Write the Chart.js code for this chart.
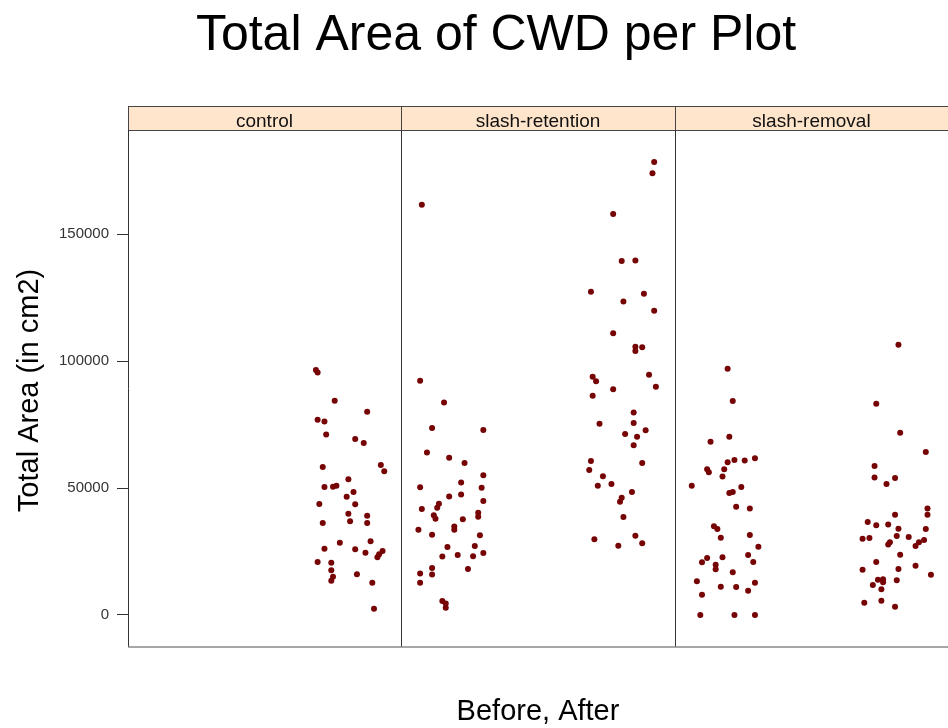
<!DOCTYPE html>
<html>
<head>
<meta charset="utf-8">
<title>Total Area of CWD per Plot</title>
<script src="https://cdn.jsdelivr.net/npm/chart.js@4/dist/chart.umd.min.js"></script>
<style>
  html, body { margin: 0; padding: 0; background: #fff; overflow: hidden; }
  canvas { display: block; }
</style>
</head>
<body>
<canvas id="cwdChart" width="952" height="728"></canvas>
<script>
const panels = ['control', 'slash-retention', 'slash-removal'];
const yTickValues = [0, 50000, 100000, 150000];

// x = jittered position inside a panel (1 = Before, 2 = After), y = total area in cm2
const controlAfterX = [1.80, 1.81, 1.91, 2.10, 1.81, 1.85, 1.86, 2.03, 2.08, 1.84, 2.18, 2.20, 1.99, 1.85, 1.90, 1.92, 2.02, 1.98, 1.82, 2.03, 1.99, 2.10, 1.84, 2.00, 2.10, 2.12, 1.94, 1.85, 2.03, 2.09, 2.19, 2.17, 2.16, 1.81, 1.89, 1.89, 1.90, 1.89, 2.04, 2.13, 2.14];
const controlAfterY = [96500, 95500, 84400, 80000, 76900, 76200, 71100, 69300, 67700, 58300, 59100, 56600, 53400, 50400, 50500, 50900, 48400, 46600, 43700, 43600, 39900, 39100, 36200, 36900, 36200, 29000, 28400, 26100, 25900, 24500, 25200, 23900, 22700, 20900, 20600, 17600, 15100, 13500, 16000, 12700, 2500];

const retentionBeforeX = [0.82, 0.81, 0.95, 0.88, 1.18, 0.85, 0.98, 1.07, 1.18, 1.05, 0.81, 1.17, 0.98, 1.05, 1.18, 0.92, 0.91, 0.82, 0.89, 0.90, 1.15, 1.15, 1.06, 1.01, 1.01, 0.80, 0.88, 1.16, 0.97, 1.13, 1.03, 0.94, 1.12, 1.18, 0.88, 0.88, 0.81, 0.81, 1.09, 0.94, 0.96, 0.96];
const retentionBeforeY = [161500, 92200, 83700, 73600, 72800, 64000, 61900, 59800, 55000, 52200, 50300, 50100, 46700, 47400, 44900, 43800, 42200, 41700, 39300, 37900, 40300, 38700, 37700, 34800, 33600, 33600, 31600, 31400, 26800, 27200, 23600, 23000, 23100, 24400, 18500, 15900, 16300, 12700, 18100, 5500, 4500, 2900];

const retentionAfterX = [2.18, 2.17, 1.94, 1.99, 2.07, 1.81, 2.12, 2.00, 2.18, 1.94, 2.07, 2.11, 2.07, 2.15, 1.82, 1.84, 2.19, 1.94, 1.82, 2.06, 2.06, 1.86, 2.13, 2.01, 2.08, 2.06, 1.81, 2.11, 1.80, 1.88, 1.85, 1.93, 2.05, 1.99, 1.98, 2.00, 1.83, 2.07, 1.97, 2.11];
const retentionAfterY = [178400, 173900, 157900, 139400, 139600, 127300, 126500, 123400, 119800, 110900, 105600, 105400, 103900, 94600, 93800, 92000, 89900, 88900, 86300, 79700, 75600, 75300, 72700, 71300, 70200, 66800, 60600, 59800, 57100, 54600, 50900, 51600, 48400, 46200, 44600, 38600, 29800, 31200, 27300, 28200];

const removalBeforeX = [1.01, 1.04, 1.02, 0.91, 1.17, 1.11, 1.05, 1.01, 0.89, 0.90, 0.99, 0.98, 0.80, 1.09, 1.04, 1.02, 1.06, 1.14, 0.93, 0.95, 0.97, 1.14, 1.19, 1.13, 1.16, 0.89, 0.86, 0.98, 0.94, 0.94, 1.04, 0.83, 1.17, 0.97, 1.06, 1.13, 0.86, 0.85, 1.05, 1.17];
const removalBeforeY = [97000, 84300, 70200, 68200, 61700, 60800, 61000, 60100, 57400, 56200, 57400, 54500, 50900, 50400, 48400, 48000, 42600, 41900, 34900, 33900, 30400, 31500, 26900, 23600, 20900, 22400, 20800, 22700, 19800, 18000, 16800, 13300, 12700, 11100, 11000, 9500, 8000, 0, 0, 0];

const removalAfterX = [2.01, 1.88, 2.02, 2.17, 1.87, 1.87, 1.99, 1.94, 2.18, 2.18, 1.99, 1.83, 1.88, 1.95, 2.01, 2.17, 1.80, 1.84, 2.00, 2.07, 2.16, 2.13, 2.11, 1.96, 1.95, 2.02, 1.88, 2.11, 1.80, 2.01, 2.20, 1.89, 1.92, 1.92, 2.00, 1.86, 1.91, 1.81, 1.91, 1.99];
const removalAfterY = [106400, 83200, 71800, 64200, 58700, 54100, 53900, 51600, 41900, 39500, 39500, 36600, 35300, 35600, 34000, 33900, 30000, 30300, 31100, 30700, 29500, 28600, 27200, 28600, 27800, 23700, 20900, 19400, 17800, 18100, 15800, 13900, 14100, 12900, 13700, 11800, 10100, 4800, 5600, 3200];

// each panel covers 1.6 x-units, panels sit side by side on one linear axis
const panelStart = 0.7;
const panelWidth = 1.6;
const font = '"Liberation Sans", Arial, Helvetica, sans-serif';
const pointColor = '#760404';

function groupPoints(xs, ys, panel) {
  return xs.map((x, i) => ({ x: x + panel * panelWidth, y: ys[i] }));
}

const groups = [
  groupPoints(controlAfterX, controlAfterY, 0),
  groupPoints(retentionBeforeX, retentionBeforeY, 1),
  groupPoints(retentionAfterX, retentionAfterY, 1),
  groupPoints(removalBeforeX, removalBeforeY, 2),
  groupPoints(removalAfterX, removalAfterY, 2),
];

// panel frames, strips and the figure texts
const latticeFrame = {
  id: 'latticeFrame',
  afterDraw(chart) {
    const { ctx, chartArea, scales: { x } } = chart;
    const stripTop = 106;
    ctx.save();

    panels.forEach((name, i) => {
      const left = Math.round(x.getPixelForValue(panelStart + i * panelWidth));
      const right = Math.round(x.getPixelForValue(panelStart + (i + 1) * panelWidth));
      ctx.fillStyle = '#ffe5cc';
      ctx.fillRect(left, stripTop, right - left, chartArea.top - stripTop);
      ctx.strokeStyle = '#444';
      ctx.lineWidth = 1;
      ctx.strokeRect(left + 0.5, stripTop + 0.5, right - left, chartArea.top - stripTop);

      ctx.fillStyle = '#111';
      ctx.font = '19px ' + font;
      ctx.textAlign = 'center';
      ctx.textBaseline = 'alphabetic';
      ctx.fillText(name, (left + right) / 2, 127);

      ctx.strokeStyle = '#333';
      ctx.beginPath();
      ctx.moveTo(left + 0.5, chartArea.top);
      ctx.lineTo(left + 0.5, chartArea.bottom);
      ctx.moveTo(right + 0.5, chartArea.top);
      ctx.lineTo(right + 0.5, chartArea.bottom);
      ctx.stroke();
    });

    ctx.strokeStyle = '#888';
    ctx.lineWidth = 1.5;
    ctx.beginPath();
    ctx.moveTo(chartArea.left, chartArea.bottom);
    ctx.lineTo(chartArea.right, chartArea.bottom);
    ctx.stroke();

    ctx.fillStyle = '#000';
    ctx.textAlign = 'center';
    ctx.textBaseline = 'alphabetic';
    ctx.font = '50px ' + font;
    ctx.fillText('Total Area of CWD per Plot', 496, 50);

    ctx.font = '29px ' + font;
    ctx.fillText('Before, After', (chartArea.left + chartArea.right) / 2, 720);

    ctx.translate(38, (chartArea.top + chartArea.bottom) / 2 + 2);
    ctx.rotate(-Math.PI / 2);
    ctx.fillText('Total Area (in cm2)', 0, 0);
    ctx.restore();
  }
};

new Chart(document.getElementById('cwdChart'), {
  type: 'scatter',
  data: {
    datasets: groups.map(points => ({
      data: points,
      backgroundColor: pointColor,
      borderColor: pointColor,
      borderWidth: 0,
      pointRadius: 3,
    })),
  },
  options: {
    responsive: false,
    animation: false,
    layout: { padding: { top: 130, right: 2, bottom: 81, left: 0 } },
    plugins: {
      legend: { display: false },
      tooltip: { enabled: false },
      title: { display: false },
    },
    scales: {
      x: {
        type: 'linear',
        min: panelStart,
        max: panelStart + panels.length * panelWidth,
        display: false,
      },
      y: {
        min: -12600,
        max: 190950,
        afterBuildTicks: scale => {
          scale.ticks = yTickValues.map(v => ({ value: v }));
        },
        afterFit: scale => {
          scale.width = 128;
        },
        ticks: {
          callback: v => String(v),
          font: { family: font, size: 15 },
          color: '#333',
          padding: 8,
        },
        grid: {
          drawOnChartArea: false,
          drawTicks: true,
          tickLength: 11,
          color: '#333',
        },
        border: { display: false },
      },
    },
  },
  plugins: [latticeFrame],
});
</script>
</body>
</html>
